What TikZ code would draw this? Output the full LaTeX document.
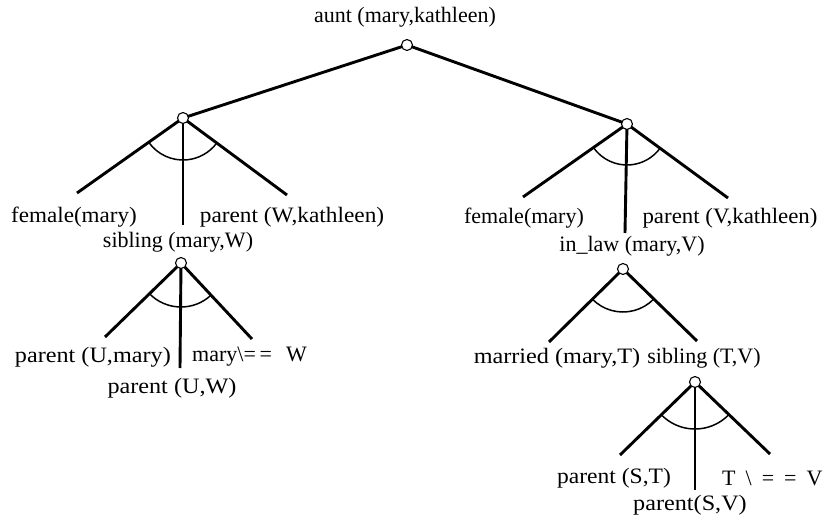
\documentclass[tikz,border=0pt]{standalone}
\usepackage{fontspec}
\usepackage{graphicx}
\setmainfont{Liberation Serif}
\newcommand\myhs[2]{\scalebox{#1}[1]{#2}}
\tikzset{
  goal/.style={circle,draw,fill=white,line width=1.1pt,inner sep=0pt,minimum size=11pt},
  branch/.style={line width=2.9pt},
  andarc/.style={line width=1.5pt},
  lbl/.style={font=\fontsize{22}{26}\selectfont,inner sep=0pt}
}
\begin{document}
\begin{tikzpicture}[x=1pt,y=1pt]
\useasboundingbox (0,0) rectangle (830,-519);
% end points
\coordinate (Al) at (77,-193); \coordinate (Am) at (183,-225); \coordinate (Ar) at (287,-195);
\coordinate (Bl) at (523,-197); \coordinate (Bm) at (625,-233); \coordinate (Br) at (728,-198);
\coordinate (Cl) at (105,-337); \coordinate (Cm) at (180,-368); \coordinate (Cr) at (252,-339);
\coordinate (Dl) at (549,-342); \coordinate (Dr) at (697,-341);
\coordinate (El) at (620,-455); \coordinate (Em) at (695,-490); \coordinate (Er) at (770,-454);
% goal circles (positions)
\coordinate (R0) at (407,-45);
\coordinate (A0) at (183,-118);
\coordinate (B0) at (627,-124);
\coordinate (C0) at (181,-263);
\coordinate (D0) at (623,-269);
\coordinate (E0) at (695,-382);
% branches
\draw[branch] (Al) -- (A0) -- (Ar); \draw[branch] (A0) -- (Am);
\draw[branch] (Bl) -- (B0) -- (Br); \draw[branch] (B0) -- (Bm);
\draw[branch] (Cl) -- (C0) -- (Cr); \draw[branch] (C0) -- (Cm);
\draw[branch] (Dl) -- (D0) -- (Dr);
\draw[branch] (El) -- (E0) -- (Er); \draw[branch] (E0) -- (Em);
\draw[branch] (A0) -- (R0) -- (B0);
% and-arcs
\draw[andarc] ([shift={(215.3:42)}]A0) arc[start angle=215.3,end angle=323.5,radius=42];
\draw[andarc] ([shift={(215.1:41)}]B0) arc[start angle=215.1,end angle=323.8,radius=41];
\draw[andarc] ([shift={(224.2:44)}]C0) arc[start angle=224.2,end angle=313,radius=44];
\draw[andarc] ([shift={(224.6:43)}]D0) arc[start angle=224.6,end angle=315.8,radius=43];
\draw[andarc] ([shift={(224.2:47)}]E0) arc[start angle=224.2,end angle=316.2,radius=47];
% circles
\node[goal] (R) at (R0) {};
\node[goal] (A) at (A0) {};
\node[goal] (B) at (B0) {};
\node[goal] (C) at (C0) {};
\node[goal] (D) at (D0) {};
\node[goal] (E) at (E0) {};
% labels
\node[lbl] (tR) at (405,-17) {aunt (mary,kathleen)};
\node[lbl] (tA1) at (74,-217) {\myhs{1.05}{female(mary)}};
\node[lbl] (tA2) at (178,-242) {sibling (mary,W)};
\node[lbl] (tA3) at (292,-217) {\myhs{1.06}{parent (W,kathleen)}};
\node[lbl] (tB1) at (524,-218) {female(mary)};
\node[lbl] (tB2) at (632,-246) {in\_law (mary,V)};
\node[lbl] (tB3) at (730,-218) {\myhs{1.04}{parent (V,kathleen)}};
\node[lbl,anchor=east] (tC1) at (171,-357) {\myhs{1.1}{parent (U,mary)}};
\node[lbl] (tC2) at (172,-388) {\myhs{1.1}{parent (U,W)}};
\node[lbl,anchor=west] (tC3) at (192,-357) {mary\textbackslash{}=\,=\hspace{14pt}W};
\node[lbl] (tD1) at (557,-358) {\myhs{1.1}{married (mary,T)}};
\node[lbl] (tD2) at (704,-358) {sibling (T,V)};
\node[lbl] (tE1) at (614,-478) {\myhs{1.07}{parent (S,T)}};
\node[lbl] (tE2) at (690,-505) {\myhs{1.1}{parent(S,V)}};
\node[lbl,anchor=west] (tE3) at (722,-478) {T\hspace{10pt}\textbackslash\hspace{10pt}=\hspace{10pt}=\hspace{10pt}V};
\end{tikzpicture}
\end{document}
